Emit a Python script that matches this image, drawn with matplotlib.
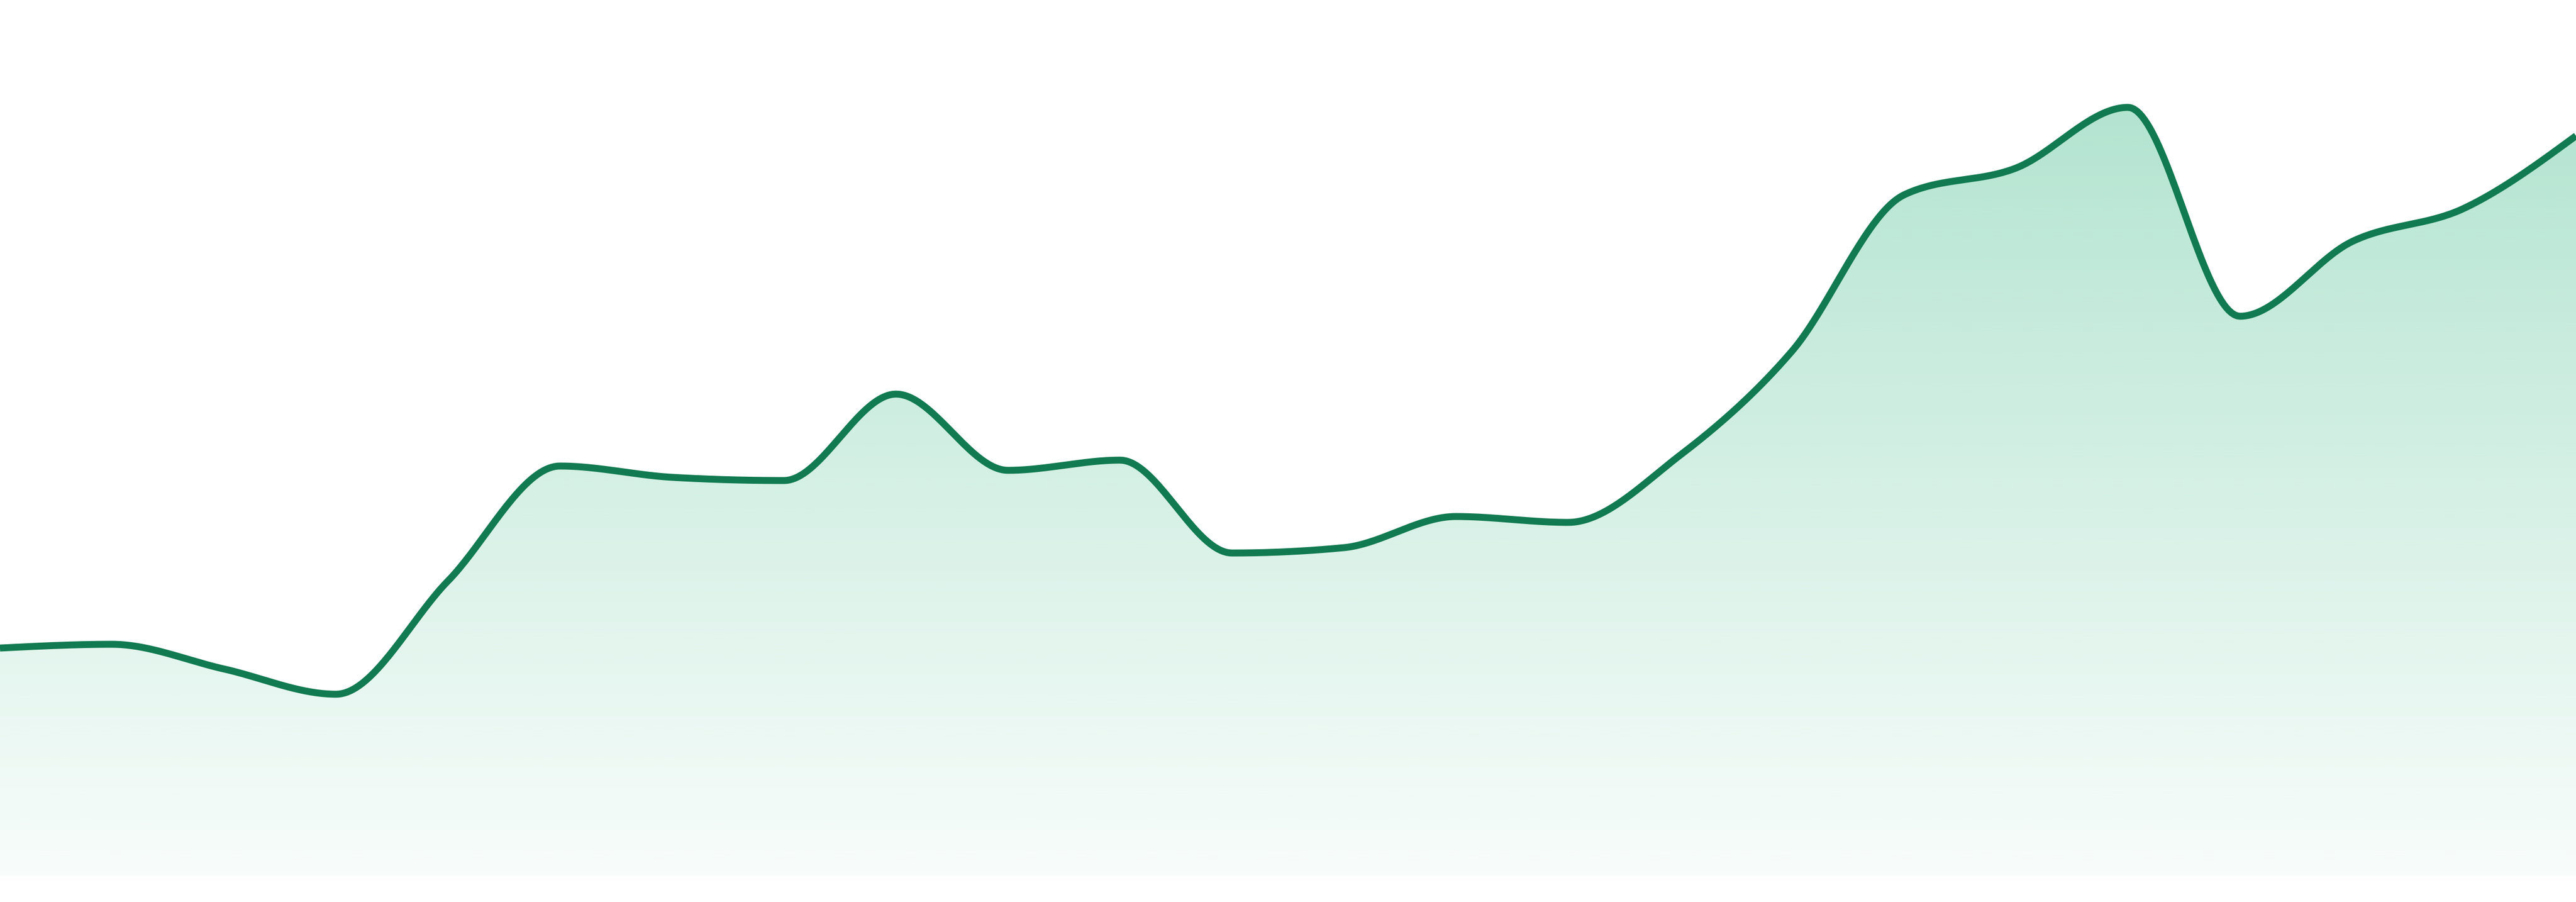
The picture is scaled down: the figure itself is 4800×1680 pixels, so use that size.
import numpy as np
import matplotlib
matplotlib.use("Agg")
import matplotlib.pyplot as plt
from matplotlib.colors import to_rgb

# series values (arbitrary units, baseline = 0)
values = [42.5, 43.2, 38.6, 33.9, 55.0, 76.4, 74.3, 73.7, 89.8, 75.6, 77.5, 60.2,
          61.2, 67.0, 65.9, 78.4, 97.8, 126.9, 131.9, 143.2, 104.3, 118.2, 124.4, 137.9]
steps = list(range(len(values)))

LINE = "#117a50"
FILL = "#12aa6e"


def monotone_x(x, y, n=40):
    """Monotone cubic (same slopes as d3.curveMonotoneX)."""
    x = np.asarray(x, float)
    y = np.asarray(y, float)
    h = np.diff(x)
    s = np.diff(y) / h
    t = np.zeros_like(y)
    for i in range(1, len(y) - 1):
        s0, s1 = s[i - 1], s[i]
        p = (s0 * h[i] + s1 * h[i - 1]) / (h[i - 1] + h[i])
        t[i] = (np.sign(s0) + np.sign(s1)) * min(abs(s0), abs(s1), 0.5 * abs(p)) or 0.0
    t[0] = (3 * s[0] - t[1]) / 2
    t[-1] = (3 * s[-1] - t[-2]) / 2
    xs, ys = [], []
    for i in range(len(x) - 1):
        u = np.linspace(0, 1, n, endpoint=False)
        dx = h[i]
        p0, p3 = y[i], y[i + 1]
        p1 = p0 + dx * t[i] / 3
        p2 = p3 - dx * t[i + 1] / 3
        xs.append(x[i] + dx * u)
        ys.append((1 - u) ** 3 * p0 + 3 * (1 - u) ** 2 * u * p1 + 3 * (1 - u) * u ** 2 * p2 + u ** 3 * p3)
    xs.append([x[-1]])
    ys.append([y[-1]])
    return np.concatenate(xs), np.concatenate(ys)


xs, ys = monotone_x(steps, values)

fig = plt.figure(figsize=(16, 5.6), dpi=300)
ax = fig.add_axes([0, 48 / 1680, 1, 1632 / 1680])
ax.set_xlim(steps[0], steps[-1])
ax.set_ylim(0, 163.2)
ax.axis("off")

# vertical gradient fill under the curve
top = max(values)
rgb = np.array(to_rgb(FILL))
grad = np.zeros((256, 1, 4))
grad[:, 0, :3] = rgb
grad[:, 0, 3] = np.linspace(0.32, 0.03, 256)
im = ax.imshow(grad, extent=(steps[0], steps[-1], 0, top), origin="upper",
               aspect="auto", interpolation="bilinear", zorder=1)
poly = ax.fill_between(xs, ys, 0, color="none", lw=0)
clip = poly.get_paths()[0]
im.set_clip_path(clip, transform=ax.transData)

ax.plot(xs, ys, color=LINE, lw=3.1, solid_capstyle="butt", solid_joinstyle="round",
        zorder=3, clip_on=False)

fig.savefig("out.png", dpi=300, facecolor="white")
